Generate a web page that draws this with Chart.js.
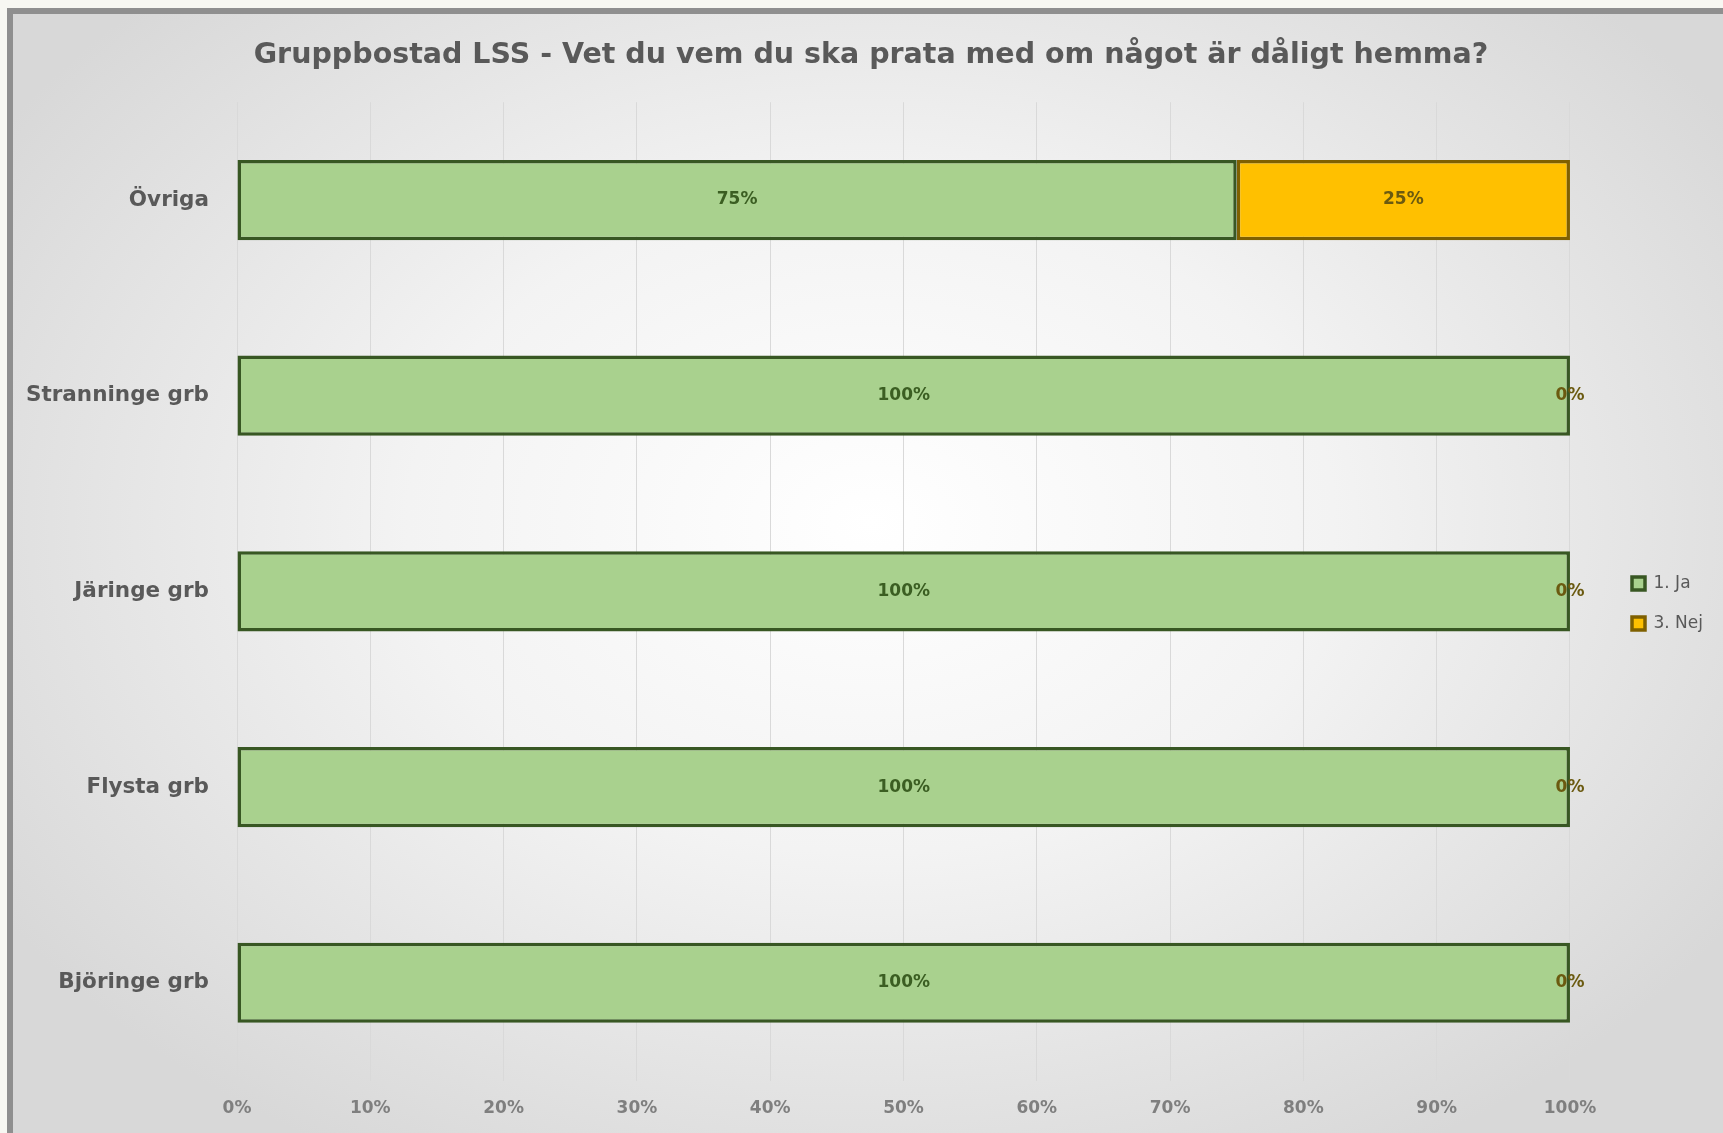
<!DOCTYPE html>
<html>
<head>
<meta charset="utf-8">
<script src="https://cdn.jsdelivr.net/npm/chart.js@4.4.1/dist/chart.umd.min.js"></script>
<style>
  html, body { margin: 0; padding: 0; background: #f7f7f2; overflow: hidden; }
  .frame {
    position: absolute; left: 7px; top: 8px; width: 1716px; height: 1130px;
    border-left: 6px solid #8f8f8f; border-top: 6px solid #8f8f8f;
    background: radial-gradient(ellipse 60% 65% at 50% 45%, #ffffff 0%, #f3f3f3 45%, #d8d8d8 100%);
  }
  .box { position: absolute; left: 0; top: 0; width: 1710px; height: 1123px; }
</style>
</head>
<body>
<div class="frame"><div class="box"><canvas id="chart"></canvas></div></div>
<script>
const categories = ['Övriga', 'Stranninge grb', 'Järinge grb', 'Flysta grb', 'Björinge grb'];
const jaValues = [75, 100, 100, 100, 100];
const nejValues = [25, 0, 0, 0, 0];
const seriesNames = ['1. Ja', '3. Nej'];
const xTicks = [0, 10, 20, 30, 40, 50, 60, 70, 80, 90, 100];

const fontFamily = "'DejaVu Sans', sans-serif";

const barLabels = {
  id: 'barLabels',
  afterLayout(chart) {
    // legend sits further from the plot and lower than chart.js puts it
    const lg = chart.legend;
    const dx = 1596 - lg.left;
    lg.left += dx;
    lg.right += dx;
    lg.top += 28;
    lg.bottom += 28;
    // title is centred a bit right of the plot, like in excel
    const t = chart.titleBlock;
    t.left = 0;
    t.right = 1716;
  },
  // labels in the middle of each segment, like excel data labels
  afterDatasetsDraw(chart) {
    const c = chart.ctx;
    c.save();
    c.font = "bold 17px " + fontFamily;
    c.textAlign = 'center';
    c.textBaseline = 'middle';
    chart.data.datasets.forEach((ds, i) => {
      const meta = chart.getDatasetMeta(i);
      meta.data.forEach((bar, j) => {
        const mid = (bar.x + bar.base) / 2;
        c.fillStyle = ds.labelColor;
        c.fillText(ds.data[j] + '%', mid, bar.y);
      });
    });
    c.restore();
  }
};

const ctx = document.getElementById('chart').getContext('2d');
const chart = new Chart(ctx, {
  type: 'bar',
  data: {
    labels: categories,
    datasets: [
      {
        label: seriesNames[0],
        data: jaValues,
        backgroundColor: '#a9d18e',
        borderColor: '#385723',
        borderWidth: c => (c.raw === 0 ? 0 : 3.5),
        borderSkipped: false,
        labelColor: '#3b5e22',
        categoryPercentage: 1,
        barPercentage: 0.41,
      },
      {
        label: seriesNames[1],
        data: nejValues,
        backgroundColor: '#ffc000',
        borderColor: '#7f6000',
        borderWidth: c => (c.raw === 0 ? 0 : 3.5),
        borderSkipped: false,
        labelColor: '#6b5a10',
        categoryPercentage: 1,
        barPercentage: 0.41,
      }
    ]
  },
  options: {
    indexAxis: 'y',
    responsive: true,
    maintainAspectRatio: false,
    animation: false,
    layout: { padding: { left: 0, right: 49, top: 0, bottom: 0 } },
    plugins: {
      title: {
        display: true,
        text: 'Gruppbostad LSS - Vet du vem du ska prata med om något är dåligt hemma?',
        color: '#595959',
        font: { family: fontFamily, size: 28.5, weight: 'bold' },
        padding: { top: 24, bottom: 30 },
      },
      legend: {
        position: 'right',
        labels: {
          color: '#595959',
          font: { family: fontFamily, size: 17 },
          boxWidth: 13,
          boxHeight: 13,
          padding: 23,
        }
      },
      tooltip: { enabled: false },
    },
    scales: {
      x: {
        stacked: true,
        min: 0,
        max: 100,
        afterBuildTicks: axis => { axis.ticks = xTicks.map(v => ({ value: v })); },
        grid: { color: '#d9d9d9', lineWidth: 1, drawTicks: false },
        border: { display: false },
        ticks: {
          color: '#7f7f7f',
          padding: 18,
          font: { family: fontFamily, size: 17, weight: 'bold' },
          callback: v => v + '%',
        }
      },
      y: {
        stacked: true,
        grid: { display: false, drawTicks: false },
        border: { display: false },
        afterFit: axis => { axis.width = 224; },
        ticks: {
          color: '#595959',
          padding: 28,
          font: { family: fontFamily, size: 21.5, weight: 'bold' },
        }
      }
    }
  },
  plugins: [barLabels]
});
</script>
</body>
</html>
